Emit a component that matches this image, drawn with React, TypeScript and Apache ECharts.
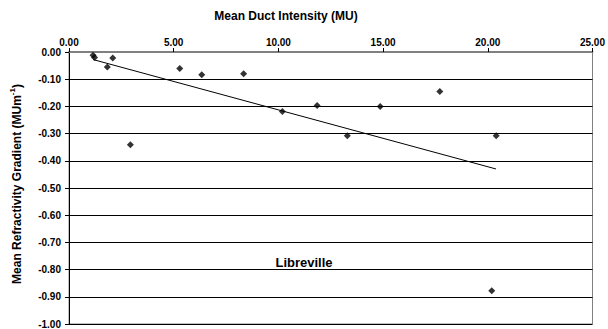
import React, { useEffect, useRef } from "react";
import * as echarts from "echarts";

const ductIntensity = [1.15, 1.22, 2.09, 1.83, 2.93, 5.29, 6.34, 8.34, 10.19, 11.85, 13.29, 14.86, 17.71, 20.4, 20.19];
const refractivityGradient = [-0.012, -0.02, -0.022, -0.055, -0.341, -0.061, -0.084, -0.08, -0.219, -0.197, -0.308, -0.2, -0.145, -0.308, -0.878];
const trendX = [1.16, 20.39];
const trendY = [-0.028, -0.43];
const xTicks = { min: 0, max: 25, interval: 5 };
const yTicks = { min: -1, max: 0, interval: 0.1 };
const xTitle = "Mean Duct Intensity (MU)";
const stationName = "Libreville";

const FONT = "'Liberation Sans', Arial, sans-serif";

export default function App() {
  const ref = useRef<HTMLDivElement>(null);
  useEffect(() => {
    document.body.style.margin = "0";
    if (!ref.current) return;
    const chart = echarts.init(ref.current, null, { renderer: "svg" });
    const points = ductIntensity.map((x, i) => [x, refractivityGradient[i]]);
    const trend = trendX.map((x, i) => [x, trendY[i]]);
    chart.setOption({
      animation: false,
      backgroundColor: "#ffffff",
      textStyle: { fontFamily: FONT },
      grid: {
        left: 58,
        right: 12,
        top: 52,
        bottom: 5,
        show: true,
        borderColor: "#808080",
        borderWidth: 1,
        backgroundColor: "transparent",
      },
      xAxis: {
        type: "value",
        position: "top",
        min: xTicks.min,
        max: xTicks.max,
        interval: xTicks.interval,
        axisLine: { show: true, onZero: false, lineStyle: { color: "#808080", width: 2 } },
        axisTick: { show: true, inside: false, length: 4, lineStyle: { color: "#000" } },
        axisLabel: {
          margin: 5,
          fontFamily: FONT,
          fontSize: 10,
          fontWeight: "bold",
          color: "#000",
          formatter: (v: number) => v.toFixed(2),
        },
        splitLine: { show: false },
      },
      yAxis: {
        type: "value",
        min: yTicks.min,
        max: yTicks.max,
        interval: yTicks.interval,
        name: "Mean Refractivity Gradient (MUm{sup|-1})",
        nameLocation: "middle",
        nameGap: 43,
        nameRotate: 90,
        nameTextStyle: {
          fontFamily: FONT,
          fontSize: 12,
          fontWeight: "bold",
          color: "#000",
          lineHeight: 18,
          padding: [0, 0, 0, 8],
          rich: {
            sup: { fontFamily: FONT, fontSize: 8, fontWeight: "bold", color: "#000", verticalAlign: "top", lineHeight: 8 },
          },
        },
        axisLine: { show: true, onZero: false, lineStyle: { color: "#000", width: 1 } },
        axisTick: { show: true, inside: false, length: 4, lineStyle: { color: "#000" } },
        axisLabel: {
          margin: 8,
          fontFamily: FONT,
          fontSize: 10,
          fontWeight: "bold",
          color: "#000",
          formatter: (v: number) => v.toFixed(2),
        },
        splitLine: { show: true, lineStyle: { color: "#000", width: 1 } },
      },
      series: [
        {
          type: "scatter",
          data: points,
          symbol: "diamond",
          symbolSize: 7,
          itemStyle: { color: "#000" },
          z: 5,
        },
        {
          type: "line",
          data: trend,
          symbol: "none",
          lineStyle: { color: "#000", width: 1 },
          z: 4,
        },
      ],
      graphic: [
        {
          type: "text",
          x: 286,
          y: 16,
          style: {
            text: xTitle,
            font: `bold 12px ${FONT}`,
            fill: "#000",
            align: "center",
            verticalAlign: "middle",
          },
        },
        {
          type: "text",
          x: 304,
          y: 262,
          style: {
            text: stationName,
            font: `bold 13px ${FONT}`,
            fill: "#000",
            align: "center",
            verticalAlign: "middle",
          },
        },
      ],
    });
    return () => chart.dispose();
  }, []);
  return <div ref={ref} style={{ width: 608, height: 329 }} />;
}
